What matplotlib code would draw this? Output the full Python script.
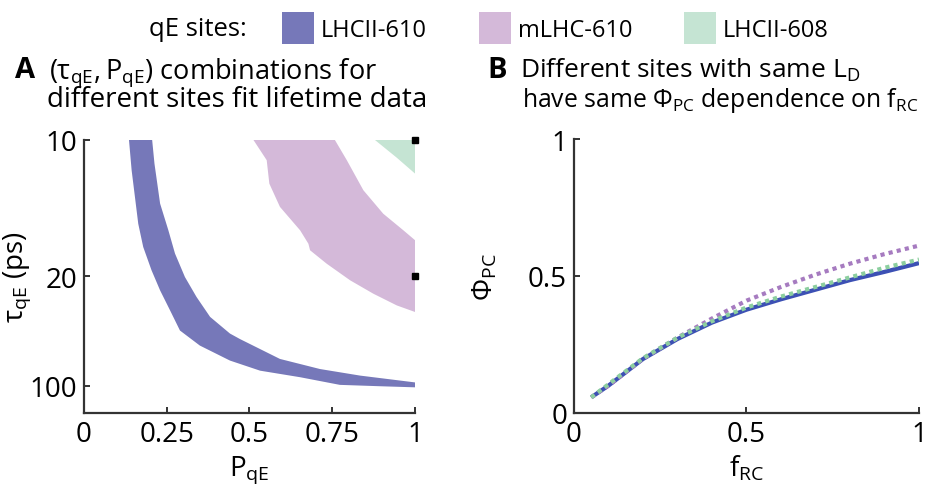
import matplotlib
matplotlib.use("Agg")
import matplotlib.pyplot as plt
from matplotlib.patches import Patch

plt.rcParams['font.family'] = ['Open Sans', 'DejaVu Sans']
plt.rcParams['mathtext.default'] = 'regular'

# site names and colours
sites = ["LHCII-610", "mLHC-610", "LHCII-608"]
fill_colors = ["#7678b9", "#d4b9d9", "#c5e4d3"]
line_colors = ["#3c50b4", "#a67bc0", "#8ccf9f"]

# panel A: regions of (P_qE, 1/tau_qE) that fit lifetime data; y is rate in 1/ps
blue_lo_P = [0.136, 0.144, 0.154, 0.164, 0.179, 0.204, 0.230, 0.260, 0.290, 0.350,
             0.441, 0.532, 0.653, 0.773, 0.894, 1.0]
blue_lo_k = [0.100, 0.0889, 0.0791, 0.0693, 0.0608, 0.0523, 0.0449, 0.0376, 0.0302, 0.0247,
             0.0192, 0.0155, 0.0131, 0.0103, 0.0098, 0.0094]
blue_hi_P = [0.206, 0.213, 0.230, 0.255, 0.275, 0.305, 0.340, 0.381, 0.441, 0.471,
             0.592, 0.713, 0.834, 1.0]
blue_hi_k = [0.100, 0.0913, 0.0767, 0.0669, 0.0584, 0.0498, 0.0425, 0.0352, 0.0291, 0.0271,
             0.0198, 0.0161, 0.0137, 0.0112]

purple_lo_P = [0.512, 0.552, 0.560, 0.592, 0.653, 0.678, 0.683, 0.733, 0.804, 0.874, 0.945, 1.0]
purple_lo_k = [0.100, 0.0926, 0.0840, 0.0755, 0.0669, 0.0620, 0.0596, 0.0547, 0.0486, 0.0437, 0.0394, 0.0370]
purple_hi_P = [0.758, 0.794, 0.844, 0.904, 0.965, 1.0]
purple_hi_k = [0.100, 0.0926, 0.0816, 0.0730, 0.0669, 0.0633]

green_P = [0.879, 0.945, 1.0, 1.0]
green_k = [0.100, 0.0935, 0.0877, 0.100]

marker_P = [1.0, 1.0]
marker_k = [0.1, 0.05]

tau_ticks = [10, 20, 100]
P_ticks = [0, 0.25, 0.5, 0.75, 1]
P_ticklabels = ["0", "0.25", "0.5", "0.75", "1"]

# panel B: Phi_PC vs f_RC
f_rc = [0.05, 0.1, 0.2, 0.3, 0.4, 0.5, 0.6, 0.7, 0.8, 0.9, 1.0]
phi_lhcii610 = [0.057, 0.10, 0.197, 0.27, 0.33, 0.377, 0.415, 0.45, 0.485, 0.515, 0.547]
phi_mlhc610 = [0.057, 0.10, 0.198, 0.275, 0.345, 0.41, 0.46, 0.505, 0.545, 0.58, 0.611]
phi_lhcii608 = [0.057, 0.105, 0.20, 0.275, 0.335, 0.385, 0.425, 0.46, 0.495, 0.53, 0.56]

fig = plt.figure(figsize=(9.33, 4.89), dpi=100)
axA = fig.add_axes([0.090, 0.1534, 0.3548, 0.5583])
axB = fig.add_axes([0.6152, 0.1534, 0.3698, 0.5603])

spine_c = "#333333"
for ax in (axA, axB):
    for s in ("top", "right"):
        ax.spines[s].set_visible(False)
    for s in ("left", "bottom"):
        ax.spines[s].set_linewidth(1.6)
        ax.spines[s].set_color(spine_c)
    ax.tick_params(direction="in", length=4, width=1.4, color=spine_c,
                   labelsize=20, pad=5)

# panel A
axA.fill(blue_lo_P + blue_hi_P[::-1], blue_lo_k + blue_hi_k[::-1],
         color=fill_colors[0], lw=0)
axA.fill(purple_lo_P + purple_hi_P[::-1], purple_lo_k + purple_hi_k[::-1],
         color=fill_colors[1], lw=0)
axA.fill(green_P, green_k, color=fill_colors[2], lw=0)
axA.plot(marker_P, marker_k, "s", color="k", ms=5, clip_on=False, zorder=5)
axA.set_xlim(0, 1)
axA.set_ylim(0, 0.1)
axA.set_xticks(P_ticks)
axA.set_xticklabels(P_ticklabels)
axA.set_yticks([1 / t for t in tau_ticks])
axA.set_yticklabels([str(t) for t in tau_ticks])
axA.set_xlabel("$P_{qE}$", fontsize=20, labelpad=4)
axA.set_ylabel("$τ_{qE}$ (ps)", fontsize=20)
axA.yaxis.set_label_coords(-0.155, 0.5)

# panel B
axB.plot(f_rc, phi_lhcii610, color=line_colors[0], lw=3, solid_capstyle="butt")
axB.plot(f_rc, phi_mlhc610, color=line_colors[1], lw=3, ls=(0, (1, 1)))
axB.plot(f_rc, phi_lhcii608, color=line_colors[2], lw=3, ls=(0, (1, 1)))
axB.set_xlim(0, 1)
axB.set_ylim(0, 1)
axB.set_xticks([0, 0.5, 1])
axB.set_xticklabels(["0", "0.5", "1"])
axB.set_yticks([0, 0.5, 1])
axB.set_yticklabels(["0", "0.5", "1"])
axB.set_xlabel("$f_{RC}$", fontsize=20, labelpad=4)
axB.set_ylabel("$Φ_{PC}$", fontsize=20)
axB.yaxis.set_label_coords(-0.215, 0.5)

# titles
fig.text(0.016, 0.840, "A", fontsize=21, fontweight="bold")
fig.text(0.052, 0.840, "$(τ_{qE}, P_{qE})$ combinations for", fontsize=19.5)
fig.text(0.050, 0.781, "different sites fit lifetime data", fontsize=20)
fig.text(0.522, 0.840, "B", fontsize=21, fontweight="bold")
fig.text(0.557, 0.840, "Different sites with same $L_D$", fontsize=19)
fig.text(0.559, 0.781, "have same $Φ_{PC}$ dependence on $f_{RC}$", fontsize=17.8)

# legend
fig.text(0.160, 0.940, "qE sites:", fontsize=18.5, va="center")
handles = [Patch(facecolor=c, edgecolor="none") for c in fill_colors]
fig.legend(handles, sites, loc="center left", bbox_to_anchor=(0.302, 0.940),
           ncol=3, frameon=False, fontsize=17, handlelength=1.35,
           handleheight=1.7, handletextpad=0.3, columnspacing=2.2,
           borderaxespad=0, borderpad=0)

fig.savefig("out.png", dpi=100)
